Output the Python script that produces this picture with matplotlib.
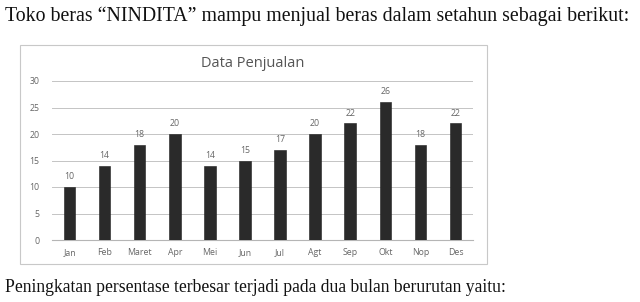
import matplotlib
matplotlib.use("Agg")
import matplotlib.pyplot as plt
from matplotlib.patches import Rectangle

months = ["Jan", "Feb", "Maret", "Apr", "Mei", "Jun", "Jul", "Agt", "Sep", "Okt", "Nop", "Des"]
sales = [10, 14, 18, 20, 14, 15, 17, 20, 22, 26, 18, 22]
y_ticks = [0, 5, 10, 15, 20, 25, 30]

W, H = 640, 302
fig = plt.figure(figsize=(W / 100, H / 100), dpi=100)
fig.patch.set_facecolor("white")

# Question text above and below the chart
fig.text(5 / W, 1 - 16 / H, "Toko beras \u201cNINDITA\u201d mampu menjual beras dalam setahun sebagai berikut:",
         family="Liberation Serif", fontsize=14.3, color="#111111", va="center", ha="left")
fig.text(5 / W, 1 - 287 / H, "Peningkatan persentase terbesar terjadi pada dua bulan berurutan yaitu:",
         family="Liberation Serif", fontsize=12.7, color="#111111", va="center", ha="left")

# Chart frame
frame = Rectangle((20 / W, 1 - 264 / H), (487 - 20) / W, (264 - 45) / H,
                  transform=fig.transFigure, facecolor="white", edgecolor="#c8c8c8", lw=0.8,
                  zorder=0)
fig.patches.append(frame)

fig.text(253 / W, 1 - 63 / H, "Data Penjualan", family="Open Sans", fontsize=10.5,
         color="#555555", ha="center", va="center")

ax = fig.add_axes([52 / W, 1 - 240 / H, (473 - 52) / W, (240 - 81) / H])
ax.set_zorder(2)
ax.set_facecolor("none")
x = list(range(len(months)))
bars = ax.bar(x, sales, width=0.33, color="#2a2a2a", edgecolor="#1e1e1e", lw=0.4, zorder=3)
for xi, v in zip(x, sales):
    ax.text(xi, v + 1.1, str(v), ha="center", va="bottom", fontsize=6.3,
            color="#666666", family="Open Sans")

ax.set_ylim(0, 30)
ax.set_xlim(-0.5, len(months) - 0.5)
ax.set_yticks(y_ticks)
ax.set_xticks(x)
ax.set_xticklabels(months)
ax.yaxis.grid(True, color="#c4c4c4", lw=0.7, zorder=0)
for s in ["top", "right", "left"]:
    ax.spines[s].set_visible(False)
ax.spines["bottom"].set_color("#b5b5b5")
ax.spines["bottom"].set_linewidth(0.8)
ax.tick_params(axis="x", length=0, labelsize=6.3, colors="#666666", pad=6)
ax.tick_params(axis="y", length=0, labelsize=6.3, colors="#666666", pad=9)
for lab in ax.get_xticklabels() + ax.get_yticklabels():
    lab.set_family("Open Sans")

fig.savefig("out.png", dpi=100, facecolor="white")
